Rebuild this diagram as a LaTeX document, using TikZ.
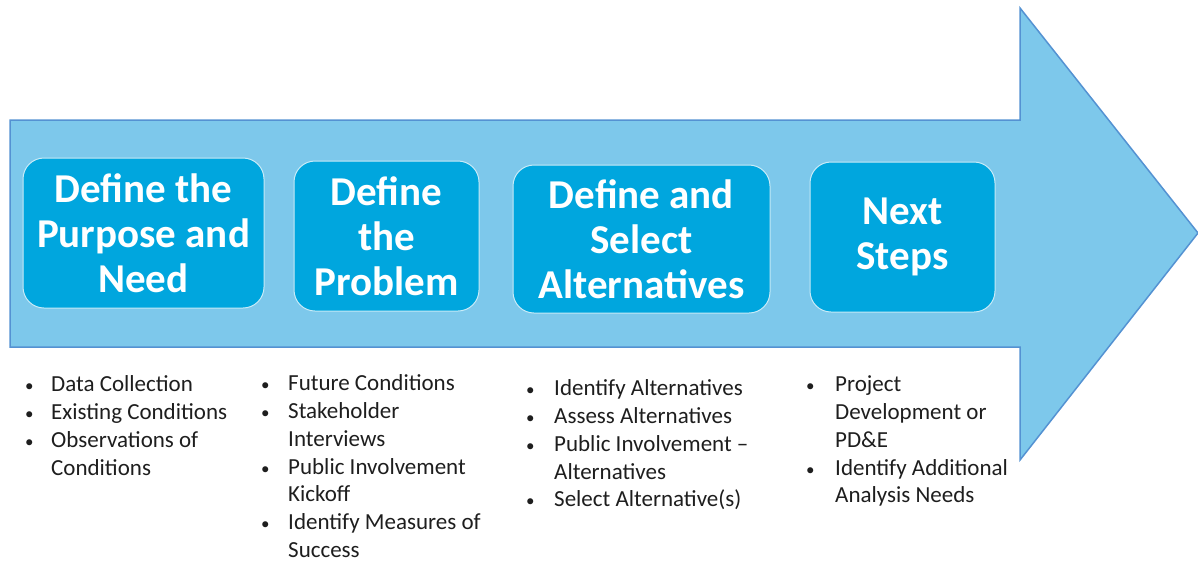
\documentclass[tikz,border=0pt]{standalone}
\usepackage{fontspec}
\setmainfont{Carlito}
\usetikzlibrary{positioning}
\definecolor{arrowfill}{RGB}{125,200,235}
\definecolor{arrowline}{RGB}{84,146,210}
\definecolor{boxfill}{RGB}{0,166,222}
\definecolor{boxline}{RGB}{200,235,248}
\definecolor{listtext}{RGB}{30,30,30}
\newcommand{\bul}{{\fontsize{17}{17}\selectfont\textbullet}}
\begin{document}
\begin{tikzpicture}[x=1pt,y=-1pt,
  stagebox/.style={rounded corners=21pt, fill=boxfill, draw=boxline, line width=1pt,
    text=white, font=\bfseries\fontsize{41}{45}\selectfont, align=center, inner sep=0pt},
  bulletlist/.style={anchor=north west, inner sep=0pt, text=listtext,
    font=\fontsize{23}{27.8}\selectfont}]
\useasboundingbox (0,0) rectangle (1198,563);
\draw[fill=arrowfill, draw=arrowline, line width=1.5pt, line join=miter]
  (10,120) -- (1020,120) -- (1020,8) -- (1198,233) -- (1020,460) -- (1020,347) -- (10,347) -- cycle;
\node[stagebox, minimum width=241pt, minimum height=150pt] (b1) at (143.5,233) {Define the\\Purpose and\\Need};
\node[stagebox, minimum width=185pt, minimum height=150pt] (b2) at (386.5,236) {Define\\the\\Problem};
\node[stagebox, minimum width=257pt, minimum height=148pt] (b3) at (641.5,239) {Define and\\Select\\Alternatives};
\node[stagebox, minimum width=185pt, minimum height=150pt] (b4) at (902.5,237) {Next\\Steps};
\node[bulletlist] (l1) at (25,372) {\begin{tabular}{@{}p{26pt}@{}l@{}}
\bul & Data Collection\\
\bul & Existing Conditions\\
\bul & Observations of\\
 & Conditions
\end{tabular}};
\node[bulletlist] (l2) at (261,371) {\begin{tabular}{@{}p{27pt}@{}l@{}}
\bul & Future Conditions\\
\bul & Stakeholder\\
 & Interviews\\
\bul & Public Involvement\\
 & Kickoff\\
\bul & Identify Measures of\\
 & Success
\end{tabular}};
\node[bulletlist] (l3) at (526,376) {\begin{tabular}{@{}p{28pt}@{}l@{}}
\bul & Identify Alternatives\\
\bul & Assess Alternatives\\
\bul & Public Involvement –\\
 & Alternatives\\
\bul & Select Alternative(s)
\end{tabular}};
\node[bulletlist] (l4) at (806,372) {\begin{tabular}{@{}p{29pt}@{}l@{}}
\bul & Project\\
 & Development or\\
 & PD\&E\\
\bul & Identify Additional\\
 & Analysis Needs
\end{tabular}};
\end{tikzpicture}
\end{document}
